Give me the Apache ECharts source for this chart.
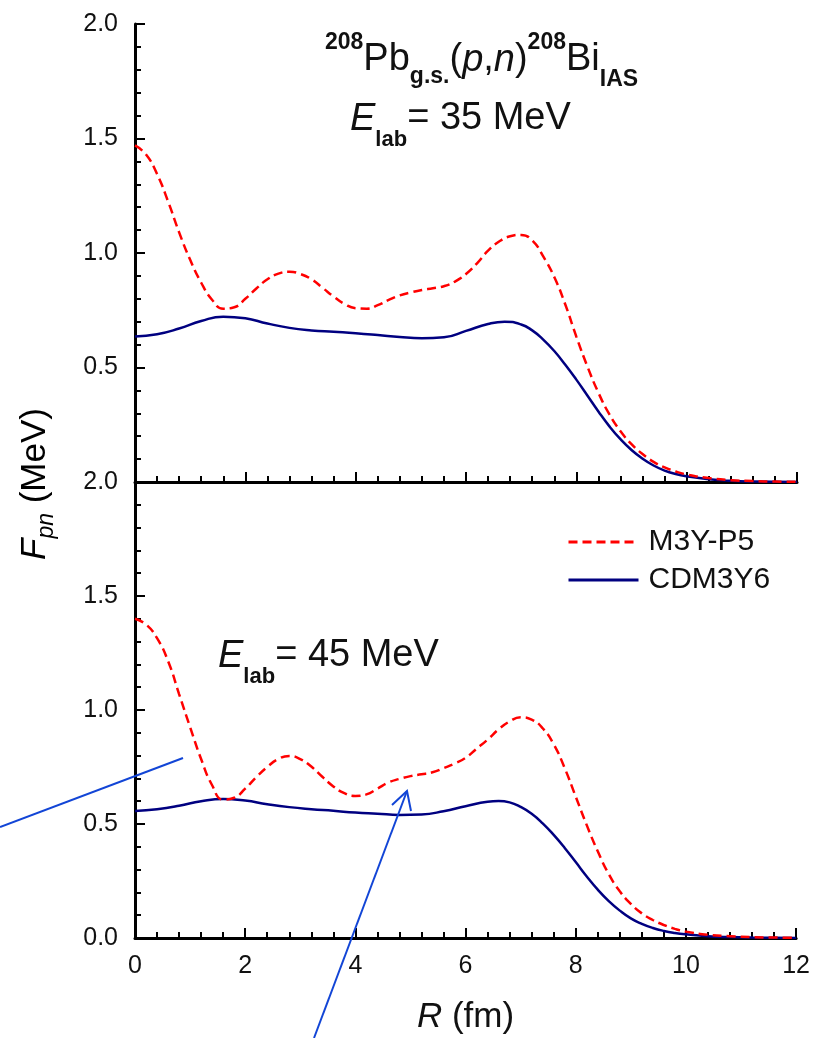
<!DOCTYPE html>
<html><head><meta charset="utf-8">
<script src="https://cdn.jsdelivr.net/npm/echarts@6/dist/echarts.min.js"></script>
<style>html,body{margin:0;padding:0;background:#fff}#c{width:813px;height:1038px}</style>
</head><body><div id="c"></div>
<script>
// ---- data (R in fm, F_pn in MeV) ----
const seriesNames = ['M3Y-P5', 'CDM3Y6'];
const rM3Y = [0,0.2,0.4,0.6,0.8,1.0,1.2,1.4,1.6,1.8,2.0,2.2,2.4,2.6,2.8,3.0,3.2,3.4,3.6,3.8,4.0,4.2,4.4,4.6,4.8,5.0,5.2,5.4,5.6,5.8,6.0,6.2,6.4,6.6,6.8,7.0,7.2,7.4,7.6,7.8,8.0,8.2,8.4,8.6,8.8,9.0,9.2,9.4,9.6,9.8,10.0,10.4,10.8,11.2,11.6,12];
const f35M3Y = [1.47,1.43,1.345,1.225,1.09,0.97,0.87,0.795,0.757,0.763,0.80,0.845,0.885,0.91,0.918,0.908,0.885,0.848,0.81,0.777,0.759,0.757,0.772,0.795,0.815,0.828,0.838,0.846,0.855,0.875,0.908,0.955,1.01,1.05,1.073,1.079,1.055,0.985,0.895,0.775,0.635,0.505,0.39,0.295,0.222,0.165,0.122,0.088,0.064,0.046,0.033,0.017,0.008,0.004,0.002,0.001];
const f45M3Y = [1.40,1.375,1.315,1.215,1.07,0.925,0.785,0.67,0.607,0.615,0.655,0.705,0.75,0.785,0.798,0.785,0.752,0.707,0.665,0.635,0.623,0.63,0.655,0.682,0.698,0.71,0.718,0.727,0.745,0.765,0.79,0.83,0.87,0.915,0.95,0.968,0.958,0.92,0.85,0.745,0.62,0.495,0.38,0.28,0.205,0.15,0.108,0.079,0.057,0.04,0.028,0.014,0.008,0.004,0.002,0.001];
const r35CDM = [0,0.4,0.8,1.2,1.6,2.0,2.4,2.8,3.2,3.6,4.0,4.4,4.8,5.2,5.6,6.0,6.4,6.7,7.0,7.2,7.4,7.6,7.8,8.0,8.2,8.4,8.6,8.8,9.0,9.2,9.4,9.6,9.8,10.0,10.4,10.8,11.2,12];
const f35CDM = [0.635,0.645,0.67,0.703,0.722,0.715,0.692,0.673,0.662,0.656,0.65,0.642,0.633,0.628,0.632,0.66,0.69,0.7,0.688,0.662,0.622,0.572,0.512,0.447,0.378,0.308,0.243,0.187,0.14,0.102,0.072,0.05,0.035,0.025,0.012,0.005,0.002,0.0];
const r45CDM = [0,0.4,0.8,1.2,1.6,2.0,2.4,2.8,3.2,3.6,4.0,4.4,4.8,5.2,5.6,6.0,6.4,6.6,6.8,7.0,7.2,7.4,7.6,7.8,8.0,8.2,8.4,8.6,8.8,9.0,9.2,9.4,9.6,9.8,10.0,10.4,10.8,11.2,12];
const f45CDM = [0.557,0.565,0.58,0.6,0.61,0.603,0.587,0.574,0.565,0.558,0.55,0.545,0.54,0.542,0.556,0.578,0.598,0.601,0.595,0.575,0.545,0.503,0.452,0.395,0.333,0.27,0.212,0.162,0.12,0.086,0.062,0.044,0.031,0.022,0.016,0.008,0.004,0.002,0.0];
const xMin = 0, xMax = 12, xStep = 2;
const yMin = 0, yMax = 2.0, yStep = 0.5;

const zip = (xs, ys) => xs.map((x, i) => [x, ys[i]]);
const FONT = "'Liberation Sans', Arial, sans-serif";
const RED = '#ff0000', NAVY = '#000080', ARROW = '#1245d6', INK = '#111';

function xAxisCfg(gi, showLabels) {
  return {
    type: 'value', gridIndex: gi, min: xMin, max: xMax, interval: xStep,
    axisLine: { show: true, onZero: false, lineStyle: { color: '#000', width: 3 } },
    axisTick: { show: true, inside: true, length: 10, lineStyle: { color: '#000', width: 2 } },
    minorTick: { show: true, splitNumber: 5, length: 6, lineStyle: { color: '#000', width: 2 } },
    splitLine: { show: false }, minorSplitLine: { show: false },
    axisLabel: { show: showLabels, fontFamily: FONT, fontSize: 25, color: INK, margin: 16 },
    name: showLabels ? '{i|R} (fm)' : '', nameLocation: 'middle', nameGap: 62,
    nameTextStyle: { fontFamily: FONT, fontSize: 35, color: INK,
      rich: { i: { fontFamily: FONT, fontSize: 35, fontStyle: 'italic', color: INK } } }
  };
}
function yAxisCfg(gi, showMin) {
  return {
    type: 'value', gridIndex: gi, min: yMin, max: yMax, interval: yStep,
    axisLine: { show: true, lineStyle: { color: '#000', width: 3 } },
    axisTick: { show: true, inside: true, length: 10, lineStyle: { color: '#000', width: 2 } },
    minorTick: { show: true, splitNumber: 5, length: 6, lineStyle: { color: '#000', width: 2 } },
    splitLine: { show: false }, minorSplitLine: { show: false },
    axisLabel: { fontFamily: FONT, fontSize: 25, color: INK, margin: 17, showMinLabel: showMin,
      formatter: v => v.toFixed(1) }
  };
}
function line(name, xi, data) {
  const dashed = name === seriesNames[0];
  return {
    type: 'line', name, xAxisIndex: xi, yAxisIndex: xi, data, smooth: 0.5,
    symbol: 'none', showSymbol: false, silent: true,
    lineStyle: { color: dashed ? RED : NAVY, width: 2.5, type: dashed ? [9, 5] : 'solid' },
    itemStyle: { color: dashed ? RED : NAVY }, z: dashed ? 3 : 2
  };
}

function tok(size, padTop, extra) {
  return Object.assign({ fontFamily: FONT, fontSize: size, lineHeight: size, verticalAlign: 'top',
    fontWeight: 'normal', padding: [padTop, 0, 0, 0], color: INK }, extra || {});
}
const richTitle = {
  m: tok(38, 10), i: tok(38, 10, { fontStyle: 'italic' }),
  sup: tok(23, 0, { fontWeight: 'bold' }), sub: tok(23, 34.5, { fontWeight: 'bold' }),
  sub2: tok(23, 37.5, { fontWeight: 'bold' })
};
const richE = {
  i: tok(38, 0, { fontStyle: 'italic' }), m: tok(38, 0), sub: tok(22, 28.5, { fontWeight: 'bold' })
};
const titleStyle = { fontWeight: 'normal', fontFamily: FONT, color: INK };

const chart = echarts.init(document.getElementById('c'), null, { renderer: 'canvas' });
chart.setOption({
  animation: false,
  backgroundColor: '#fff',
  textStyle: { fontFamily: FONT },
  title: [
    { text: '{sup|208}{m|Pb}{sub|g.s.}{m|(}{i|p}{m|,}{i|n}{m|)}{sup|208}{m|Bi}{sub2|IAS}',
      left: 325, top: 31, padding: 0, textStyle: Object.assign({ rich: richTitle }, titleStyle) },
    { text: '{i|E}{sub|lab}{m|= 35 MeV}', left: 350, top: 100, padding: 0,
      textStyle: Object.assign({ rich: richE }, titleStyle) },
    { text: '{i|E}{sub|lab}{m|= 45 MeV}', left: 218, top: 637, padding: 0,
      textStyle: Object.assign({ rich: richE }, titleStyle) }
  ],
  legend: {
    data: seriesNames, orient: 'vertical', left: 567, top: 527, itemWidth: 70, itemHeight: 14,
    itemGap: 8, padding: 0, selectedMode: false,
    itemStyle: { opacity: 0 },
    lineStyle: { width: 3 },
    textStyle: { fontFamily: FONT, fontSize: 30, color: INK, padding: [0, 0, 0, 5] }
  },
  grid: [
    { left: 135, top: 24, width: 662, height: 458, containLabel: false },
    { left: 135, top: 482, width: 662, height: 456, containLabel: false }
  ],
  xAxis: [xAxisCfg(0, false), xAxisCfg(1, true)],
  yAxis: [yAxisCfg(0, false), yAxisCfg(1, true)],
  series: [
    line(seriesNames[1], 0, zip(r35CDM, f35CDM)),
    line(seriesNames[0], 0, zip(rM3Y, f35M3Y)),
    line(seriesNames[1], 1, zip(r45CDM, f45CDM)),
    line(seriesNames[0], 1, zip(rM3Y, f45M3Y))
  ],
  graphic: [
    { type: 'text', x: 35, y: 484, rotation: Math.PI / 2, z: 10,
      style: { text: '{i|F}{sub|pn}{m| (MeV)}', align: 'center', verticalAlign: 'middle',
        rich: {
          i: tok(35, 0, { fontStyle: 'italic' }), m: tok(35, 0),
          sub: tok(23, 18, { fontStyle: 'italic' })
        } } },
    { type: 'line', z: 10, shape: { x1: 0, y1: 827, x2: 183, y2: 758 },
      style: { stroke: ARROW, lineWidth: 2 } },
    { type: 'line', z: 10, shape: { x1: 314, y1: 1038, x2: 407, y2: 791 },
      style: { stroke: ARROW, lineWidth: 2 } },
    { type: 'polyline', z: 10, shape: { points: [[392, 805], [407, 791], [411, 811]] },
      style: { stroke: ARROW, lineWidth: 2, fill: null } }
  ]
});
</script></body></html>
